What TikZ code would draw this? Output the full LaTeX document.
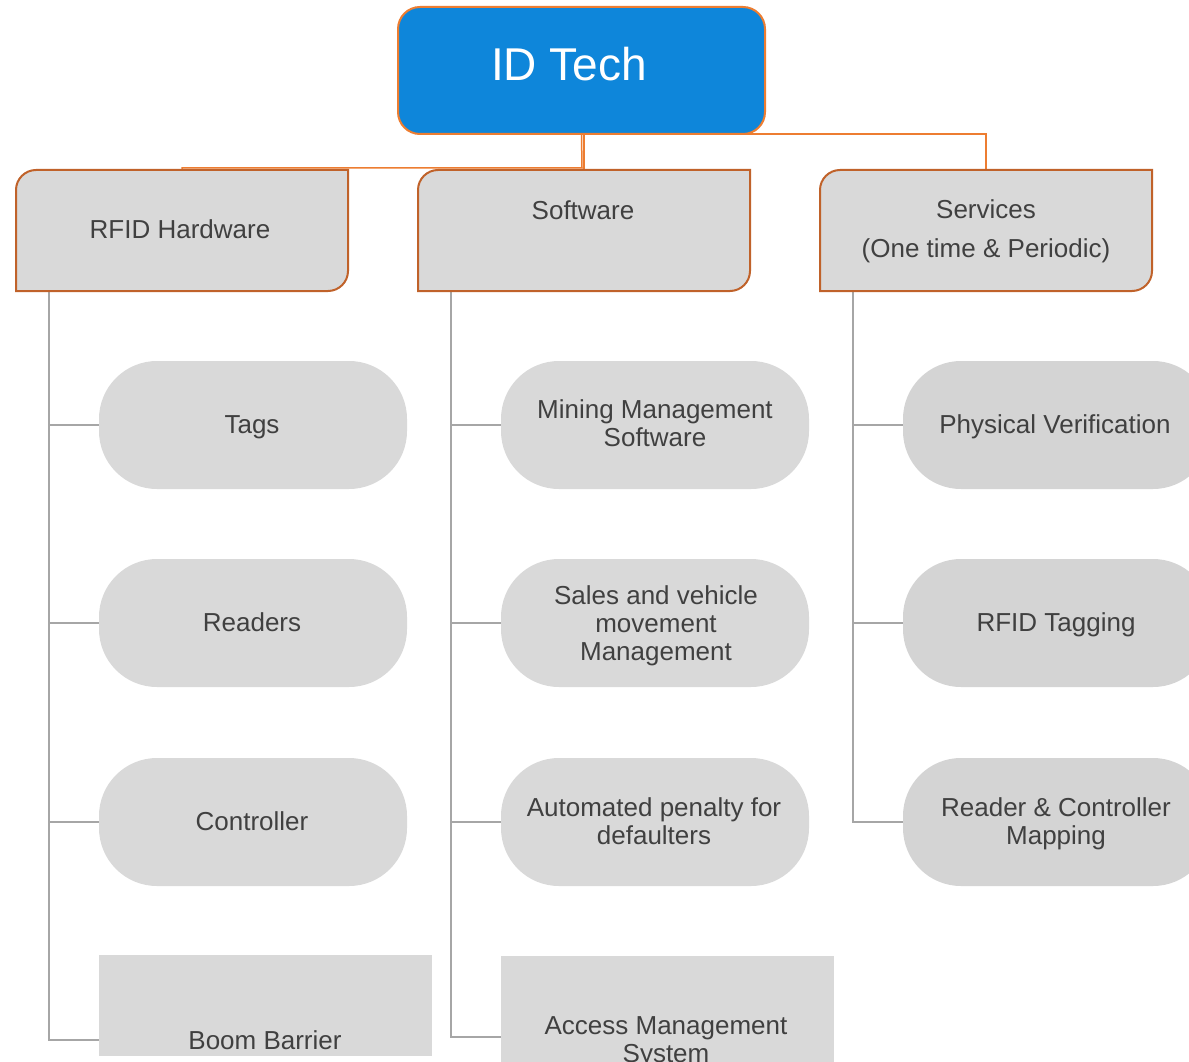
\documentclass[tikz,border=0pt]{standalone}
\usepackage{fontspec}
\setmainfont{Liberation Sans}
\usetikzlibrary{calc}
\definecolor{idblue}{HTML}{0E86DA}
\definecolor{idorange}{HTML}{ED7D31}
\definecolor{boxorange}{HTML}{C0622A}
\definecolor{boxgray}{HTML}{D9D9D9}
\definecolor{svcgray}{HTML}{D4D4D4}
\definecolor{txtgray}{HTML}{404040}
\definecolor{linegray}{HTML}{A6A6A6}
\pgfdeclarelayer{back}
\pgfdeclarelayer{bg}
\pgfsetlayers{back,bg,main}
\newcommand\lvlshape[1]{%
  \filldraw[lvlline] (#1.south west) -- ($(#1.north west)+(0,20)$)
    .. controls ($(#1.north west)+(0,9)$) and ($(#1.north west)+(9,0)$) .. ($(#1.north west)+(20,0)$)
    -- (#1.north east) -- ($(#1.south east)+(0,-20)$)
    .. controls ($(#1.south east)+(0,-9)$) and ($(#1.south east)+(-9,0)$) .. ($(#1.south east)+(-20,0)$)
    -- cycle;}
\begin{document}
\begin{tikzpicture}[x=1pt,y=-1pt,
  txt/.style={font=\fontsize{26}{28}\selectfont, text=txtgray, align=center, inner sep=0pt},
  rootbox/.style={draw=idorange, line width=2pt, fill=idblue, rounded corners=22pt,
    minimum width=367pt, minimum height=127pt, inner sep=0pt, outer sep=0pt},
  rootlabel/.style={font=\fontsize{46}{50}\selectfont, text=white, inner sep=0pt},
  lvlnode/.style={minimum width=332pt, minimum height=121pt, inner sep=0pt, outer sep=0pt},
  lvlline/.style={draw=boxorange, line width=2pt, fill=boxgray},
  pill/.style={txt, fill=boxgray, rounded corners=58pt, minimum width=308pt, minimum height=128pt, outer sep=0pt},
  svcpill/.style={pill, fill=svcgray},
  flatbox/.style={fill=boxgray, minimum width=333pt, minimum height=101pt, inner sep=0pt, outer sep=0pt},
  conn/.style={draw=idorange, line width=1.5pt},
  gline/.style={draw=linegray, line width=2pt}
]
\clip (0,0) rectangle (1189,1062);
\begin{pgfonlayer}{back}
  \fill[white] (0,0) rectangle (1189,1062);
\end{pgfonlayer}

% root
\node[rootbox] (idtech) at (581.5,70.5) {};
\node[rootlabel] (idtechlabel) at (569,64) {ID Tech};

% level 1
\node[lvlnode] (rfid) at (182,230.5) {};
\lvlshape{rfid}
\node[txt] (rfidlabel) at (180,229) {RFID Hardware};

\node[lvlnode] (software) at (584,230.5) {};
\lvlshape{software}
\node[txt] (softwarelabel) at (583,210) {Software};

\node[lvlnode] (services) at (986,230.5) {};
\lvlshape{services}
\node[txt, font=\fontsize{26}{39}\selectfont] (serviceslabel) at (986,231) {Services\\(One time \& Periodic)};

% hardware children
\node[pill] (tags) at (253,425) {};
\node[txt] at (252,427) {Tags};
\node[pill] (readers) at (253,623) {};
\node[txt] at (252,622) {Readers};
\node[pill] (controller) at (253,822) {};
\node[txt] at (252,821) {Controller};
\node[flatbox] (boom) at (265.5,1005.5) {};
\node[txt] (boomlabel) at (265,1040) {Boom Barrier};

% software children
\node[pill] (mining) at (655,425) {};
\node[txt] at (655,423) {Mining Management\\Software};
\node[pill] (sales) at (655,623) {};
\node[txt] at (656,625.5) {Sales and vehicle\\movement\\Management};
\node[pill] (penalty) at (655,822) {};
\node[txt] at (654,821) {Automated penalty for\\defaulters};
\node[flatbox, minimum height=140pt] (access) at (667.5,1026) {};
\node[txt] (accesslabel) at (666,1042) {Access Management\\System};

% services children
\node[svcpill] (physical) at (1057,425) {};
\node[txt] at (1055,427) {Physical Verification};
\node[svcpill] (tagging) at (1057,623) {};
\node[txt] at (1056,625) {RFID Tagging};
\node[svcpill] (mapping) at (1057,822) {};
\node[txt] at (1056,824) {Reader \& Controller\\Mapping};

\coordinate (bus) at (582,168);

\begin{pgfonlayer}{bg}
  \draw[conn] (idtech.south) -- (bus) -| (rfid.north);
  \draw[conn] ($(idtech.south)+(2.5,0)$) -- (software.north);
  \draw[conn] (idtech.south) -| (services.north);

  \draw[gline] ($(rfid.south west)+(33,0)$) |- (tags.west);
  \draw[gline] ($(rfid.south west)+(33,0)$) |- (readers.west);
  \draw[gline] ($(rfid.south west)+(33,0)$) |- (controller.west);
  \draw[gline] ($(rfid.south west)+(33,0)$) |- (boomlabel.west -| boom.west);

  \draw[gline] ($(software.south west)+(33,0)$) |- (mining.west);
  \draw[gline] ($(software.south west)+(33,0)$) |- (sales.west);
  \draw[gline] ($(software.south west)+(33,0)$) |- (penalty.west);
  \draw[gline] ($(software.south west)+(33,0)$) |- ($(accesslabel.west -| access.west)+(0,-5)$);

  \draw[gline] ($(services.south west)+(33,0)$) |- (physical.west);
  \draw[gline] ($(services.south west)+(33,0)$) |- (tagging.west);
  \draw[gline] ($(services.south west)+(33,0)$) |- (mapping.west);
\end{pgfonlayer}
\end{tikzpicture}
\end{document}
